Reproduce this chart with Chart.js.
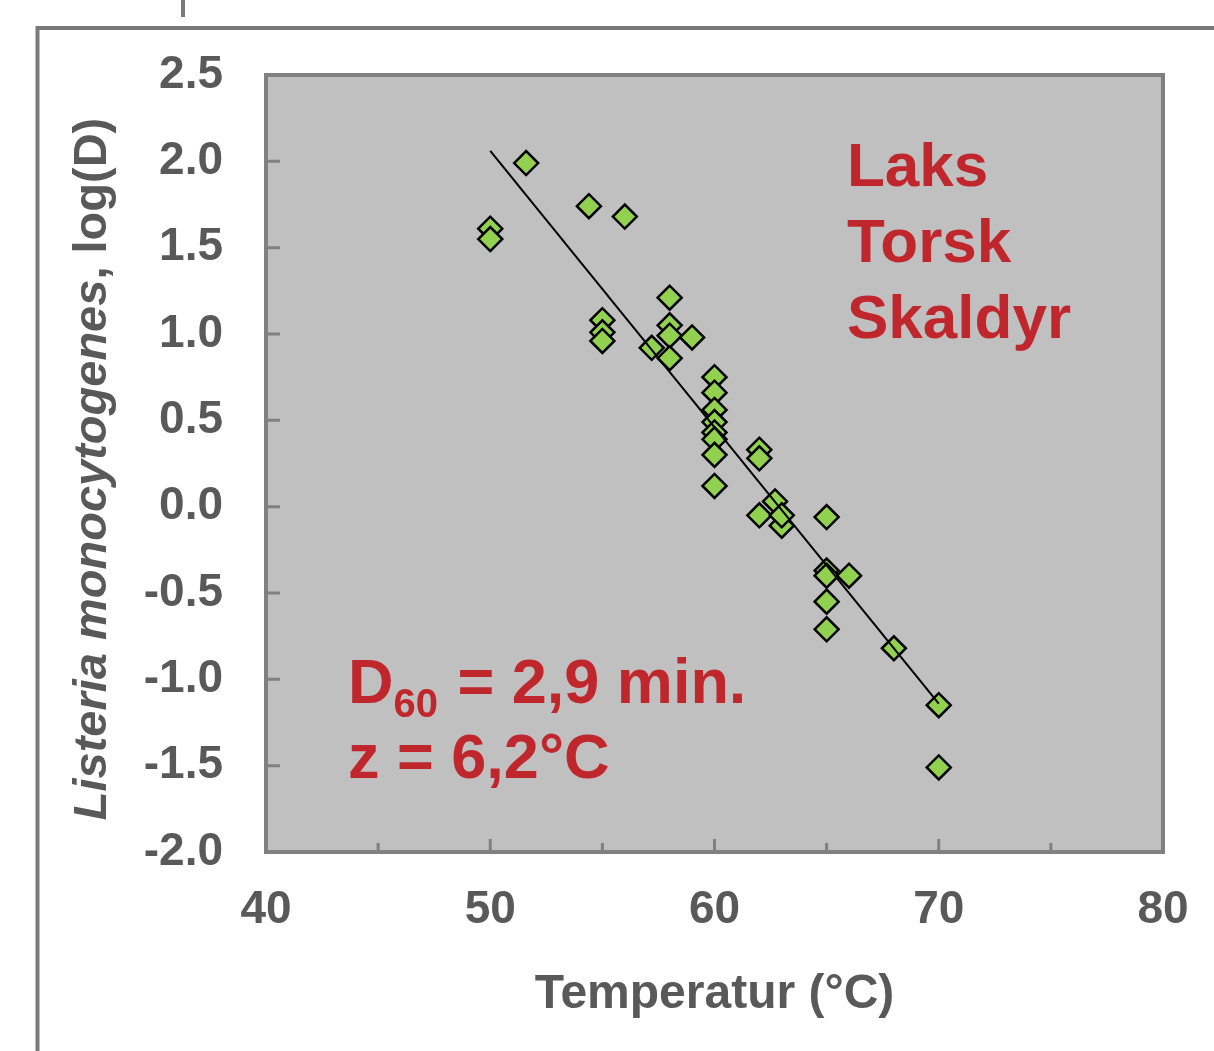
<!DOCTYPE html>
<html>
<head>
<meta charset="utf-8">
<script src="https://cdn.jsdelivr.net/npm/chart.js@4"></script>
<style>
  html, body { margin: 0; padding: 0; background: #fff; }
  #wrap { width: 1214px; height: 1051px; }
</style>
</head>
<body>
<div id="wrap"><canvas id="chart" width="1214" height="1051"></canvas></div>
<script>
// measured points: temperature (°C) and log(D)
const tempC = [50, 50, 51.6, 54.4, 56.0, 55, 55, 55, 58, 58, 58, 58, 57.2, 59.0,
  60, 60, 60, 60, 60, 60, 60, 60, 62, 62, 62, 62.7, 63.0, 63.0,
  65, 65, 65, 65, 65, 66, 68, 70, 70]
const logD = [1.61, 1.55, 1.99, 1.74, 1.68, 1.08, 1.01, 0.96, 1.21, 1.05, 0.99, 0.86, 0.92, 0.98,
  0.75, 0.66, 0.56, 0.49, 0.43, 0.39, 0.30, 0.12, 0.33, 0.28, -0.05, 0.03, -0.11, -0.05,
  -0.06, -0.37, -0.40, -0.55, -0.71, -0.40, -0.82, -1.15, -1.51]

// regression line as drawn
const fitTemp = [50, 70]
const fitLogD = [2.06, -1.14]

const xTicks = [40, 50, 60, 70, 80]
const xMinorTicks = [45, 55, 65, 75]
const yTicks = [2.5, 2.0, 1.5, 1.0, 0.5, 0.0, -0.5, -1.0, -1.5, -2.0]

const xTitle = 'Temperatur (°C)'
const yTitleItalic = 'Listeria monocytogenes'
const yTitleRest = ', log(D)'
const speciesLabels = ['Laks', 'Torsk', 'Skaldyr']
const dLabel = { main: 'D', sub: '60', rest: ' = 2,9 min.' }
const zLabel = 'z = 6,2°C'

const FONT = '"Liberation Sans", Arial, sans-serif'
const GREY_TXT = '#595959'
const GREY_LINE = '#808080'
const RED = '#c0272d'

// ── background, frame, ticks and annotations ──────────────────────────────
const decor = {
  id: 'decor',
  beforeDraw(chart) {
    const { ctx, chartArea: a } = chart
    ctx.save()
    ctx.fillStyle = '#fff'
    ctx.fillRect(0, 0, chart.width, chart.height)
    // slide frame
    ctx.strokeStyle = '#7a7a7a'
    ctx.lineWidth = 4
    ctx.beginPath()
    ctx.moveTo(37.5, chart.height)
    ctx.lineTo(37.5, 28)
    ctx.lineTo(chart.width, 28)
    ctx.moveTo(183, 0)
    ctx.lineTo(183, 17)
    ctx.stroke()
    // plot area
    ctx.fillStyle = '#c0c0c0'
    ctx.fillRect(a.left, a.top, a.right - a.left, a.bottom - a.top)
    ctx.restore()
  },
  beforeDatasetsDraw(chart) {
    const { ctx, chartArea: a, scales: { x, y } } = chart
    ctx.save()
    ctx.strokeStyle = GREY_LINE
    ctx.lineWidth = 4
    ctx.strokeRect(a.left, a.top, a.right - a.left, a.bottom - a.top)
    ctx.lineWidth = 3
    ctx.beginPath()
    yTicks.forEach((v) => {
      const py = y.getPixelForValue(v)
      ctx.moveTo(a.left, py)
      ctx.lineTo(a.left + 14, py)
    })
    xTicks.forEach((v) => {
      const px = x.getPixelForValue(v)
      ctx.moveTo(px, a.bottom)
      ctx.lineTo(px, a.bottom - 13)
    })
    xMinorTicks.forEach((v) => {
      const px = x.getPixelForValue(v)
      ctx.moveTo(px, a.bottom)
      ctx.lineTo(px, a.bottom - 9)
    })
    ctx.stroke()
    ctx.restore()
  },
  afterDraw(chart) {
    const { ctx, chartArea: a } = chart
    ctx.save()
    ctx.textBaseline = 'alphabetic'

    // axis titles
    ctx.fillStyle = GREY_TXT
    ctx.textAlign = 'center'
    ctx.font = `bold 48px ${FONT}`
    ctx.fillText(xTitle, (a.left + a.right) / 2, 1008)

    ctx.save()
    ctx.translate(106, 469)
    ctx.rotate(-Math.PI / 2)
    ctx.textAlign = 'left'
    const itFont = `italic bold 47px ${FONT}`
    const bFont = `bold 47px ${FONT}`
    ctx.font = itFont
    const w1 = ctx.measureText(yTitleItalic).width
    ctx.font = bFont
    const w2 = ctx.measureText(yTitleRest).width
    const xx = -(w1 + w2) / 2
    ctx.font = itFont
    ctx.fillText(yTitleItalic, xx, 0)
    ctx.font = bFont
    ctx.fillText(yTitleRest, xx + w1, 0)
    ctx.restore()

    // red annotations
    ctx.fillStyle = RED
    ctx.textAlign = 'left'
    ctx.font = `bold 62px ${FONT}`
    const baselines = [186, 262, 338]
    speciesLabels.forEach((s, i) => ctx.fillText(s, 847, baselines[i]))

    ctx.font = `bold 63px ${FONT}`
    let dx = 348
    ctx.fillText(dLabel.main, dx, 703)
    dx += ctx.measureText(dLabel.main).width
    ctx.font = `bold 40px ${FONT}`
    ctx.fillText(dLabel.sub, dx, 717)
    dx += ctx.measureText(dLabel.sub).width + 2
    ctx.font = `bold 63px ${FONT}`
    ctx.fillText(dLabel.rest, dx, 703)
    ctx.fillText(zLabel, 348, 778)
    ctx.restore()
  },
}

new Chart(document.getElementById('chart'), {
  type: 'scatter',
  data: {
    datasets: [
      {
        label: 'fit',
        type: 'line',
        data: fitTemp.map((t, i) => ({ x: t, y: fitLogD[i] })),
        borderColor: '#000',
        borderWidth: 2,
        pointRadius: 0,
        fill: false,
        order: 0,
      },
      {
        label: 'data',
        data: tempC.map((t, i) => ({ x: t, y: logD[i] })),
        pointStyle: 'rectRot',
        pointRadius: 12,
        backgroundColor: '#92d050',
        borderColor: '#000',
        borderWidth: 2.5,
        order: 1,
      },
    ],
  },
  options: {
    responsive: false,
    animation: false,
    devicePixelRatio: 1,
    layout: { padding: { top: 75, right: 51, left: 0, bottom: 0 } },
    plugins: { legend: { display: false }, tooltip: { enabled: false } },
    scales: {
      x: {
        type: 'linear',
        min: 40, max: 80,
        afterBuildTicks: (s) => { s.ticks = xTicks.map((v) => ({ value: v })) },
        afterFit: (s) => {
          s.height = 199
          s.paddingLeft = 0
          s.paddingRight = 0
        },
        grid: { display: false, drawTicks: false },
        border: { display: false },
        ticks: {
          padding: 31,
          color: GREY_TXT,
          font: { family: FONT, size: 46, weight: 'bold' },
          maxRotation: 0,
        },
      },
      y: {
        type: 'linear',
        min: -2, max: 2.5,
        afterBuildTicks: (s) => { s.ticks = yTicks.map((v) => ({ value: v })) },
        afterFit: (s) => {
          s.width = 266
          s.paddingTop = 0
          s.paddingBottom = 0
        },
        grid: { display: false, drawTicks: false },
        border: { display: false },
        ticks: {
          padding: 43,
          color: GREY_TXT,
          font: { family: FONT, size: 46, weight: 'bold' },
          callback: (v) => Number(v).toFixed(1),
        },
      },
    },
  },
  plugins: [decor],
})
</script>
</body>
</html>
